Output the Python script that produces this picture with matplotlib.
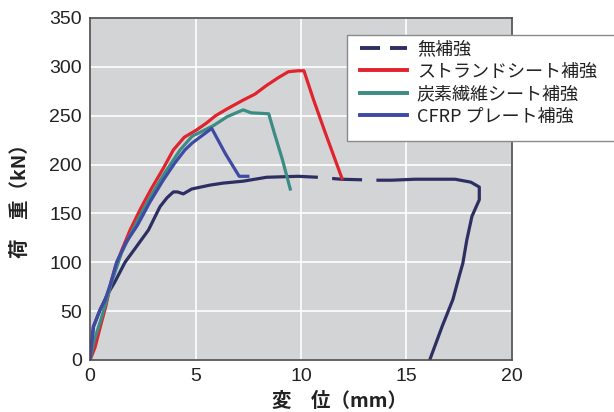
import matplotlib
matplotlib.use("Agg")
import matplotlib.pyplot as plt
from matplotlib.lines import Line2D
from matplotlib.patches import Rectangle

plt.rcParams["lines.scale_dashes"] = False
JP = ["Noto Sans CJK JP", "DejaVu Sans"]
NUM = ["Liberation Sans", "DejaVu Sans"]

# 無補強 (unreinforced)
x_none = [0, 0.16, 0.47, 0.8, 1.18, 1.66, 2.2, 2.77, 3.32, 3.65, 3.95, 4.15, 4.42,
          4.82, 5.69, 6.3, 7.26, 8.37, 9.86, 10.8, 11.9, 13.6, 14.3, 15.4, 17.3,
          18.05, 18.45, 18.45, 18.1, 17.86, 17.67, 17.5, 17.2, 16.7, 16.1]
y_none = [0, 34, 51, 66, 80, 100, 116, 133, 157, 166, 172, 172, 170,
          175, 179, 181, 183, 187, 188, 187, 185, 184, 184, 185, 185,
          182, 177, 164, 147, 123, 99, 86, 62, 35, 0]
DASH_FROM, DASH_TO = 10.8, 13.6

# ストランドシート補強
x_strand = [0, 0.24, 0.5, 0.75, 1.0, 1.2, 1.5, 1.9, 2.4, 2.9, 3.47, 3.95, 4.47,
            5.02, 5.49, 5.95, 6.5, 7.26, 7.81, 8.37, 8.93, 9.4, 9.86, 10.14, 10.6,
            11.16, 11.94]
y_strand = [0, 13, 35, 55, 80, 95, 112, 133, 155, 175, 196, 215, 228,
            235, 242, 250, 257, 266, 272, 281, 289, 295, 296, 296, 266,
            232, 186]

# 炭素繊維シート補強
x_carbon = [0, 0.2, 0.5, 0.75, 1.0, 1.5, 2.0, 2.5, 3.0, 3.5, 4.27, 4.84, 5.4, 5.86,
            6.5, 7.26, 7.63, 8.47, 8.74, 9.12, 9.49]
y_carbon = [0, 20, 40, 58, 78, 110, 132, 153, 172, 190, 215, 229, 235, 240,
            249, 256, 253, 252, 232, 205, 175]

# CFRP プレート補強
x_cfrp = [0, 0.16, 0.47, 0.71, 1.0, 1.26, 1.7, 2.25, 2.85, 3.47, 4.0, 4.5, 4.84,
          5.21, 5.77, 6.42, 7.07, 7.48]
y_cfrp = [0, 34, 51, 61, 80, 100, 120, 138, 162, 184, 201, 215, 222,
          228, 237, 211, 188, 188]

labels = ["無補強", "ストランドシート補強", "炭素繊維シート補強", "CFRP プレート補強"]
colors = ["#2d2f63", "#e0232c", "#3b8c84", "#3e4aa3"]
LW = 2.3

fig = plt.figure(figsize=(6.14, 4.12), dpi=100)
ax = fig.add_axes([90 / 614, 52 / 412, 422 / 614, 342 / 412])
ax.set_facecolor("#d3d4d6")

i0 = x_none.index(DASH_FROM)
i1 = x_none.index(DASH_TO)
ax.plot(x_none[:i0 + 1], y_none[:i0 + 1], color=colors[0], lw=LW, solid_capstyle="butt")
ax.plot(x_none[i0:i1 + 1], y_none[i0:i1 + 1], color=colors[0], lw=LW,
        linestyle=(21.6, (21.6, 10.3)), dash_capstyle="butt")
ax.plot(x_none[i1:], y_none[i1:], color=colors[0], lw=LW, solid_capstyle="butt")
ax.plot(x_strand, y_strand, color=colors[1], lw=LW)
ax.plot(x_carbon, y_carbon, color=colors[2], lw=LW)
ax.plot(x_cfrp, y_cfrp, color=colors[3], lw=LW)

ax.set_xlim(0, 20)
ax.set_ylim(0, 350)
ax.set_xticks([0, 5, 10, 15, 20])
ax.set_yticks(range(0, 351, 50))
ax.grid(color="white", lw=1.2)
ax.set_axisbelow(True)
for s in ax.spines.values():
    s.set_color("#4a4a4a")
    s.set_linewidth(1.2)
ax.tick_params(length=0, pad=6, labelsize=14, colors="#222222")
for t in ax.get_xticklabels() + ax.get_yticklabels():
    t.set_family(NUM)

fig.text(20 / 614, 1 - 196 / 412, "荷　重（kN）", rotation=90, ha="center", va="center",
         fontsize=14, fontweight="bold", family=JP, color="#222222")
fig.text(340 / 614, 1 - 401 / 412, "変　位（mm）", ha="center", va="center",
         fontsize=14, fontweight="bold", family=JP, color="#222222")

box = Rectangle((347 / 614, 1 - 141 / 412), 0.6, 106 / 412, transform=fig.transFigure,
                facecolor="white", edgecolor="#8a8a8a", lw=1, zorder=4)
fig.patches.append(box)

handles = [Line2D([], [], color=colors[0], lw=LW + 0.5, linestyle=(0, (14.4, 7.2)))]
handles += [Line2D([], [], color=c, lw=LW + 0.5) for c in colors[1:]]
leg = fig.legend(handles, labels, loc="upper left",
                 bbox_to_anchor=(360 / 614, 1 - 40 / 412), frameon=False,
                 prop={"family": JP, "size": 13}, handlelength=2.6,
                 handletextpad=0.55, labelspacing=0.25, borderpad=0, borderaxespad=0)
leg.set_zorder(6)
for t in leg.get_texts():
    t.set_color("#222222")

fig.savefig("out.png", dpi=100, facecolor="white")
